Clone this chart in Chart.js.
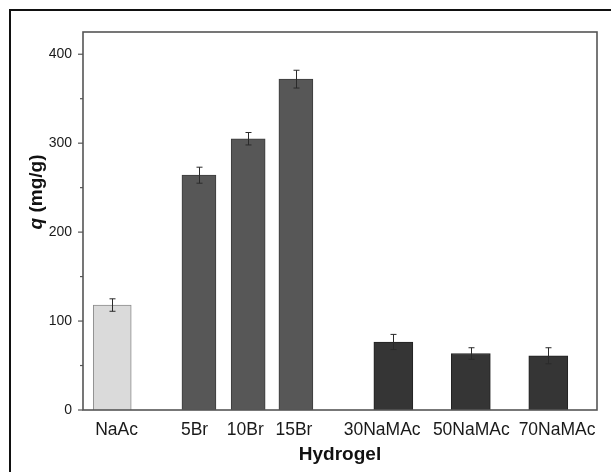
<!DOCTYPE html>
<html>
<head>
<meta charset="utf-8">
<script src="https://cdn.jsdelivr.net/npm/chart.js@4/dist/chart.umd.min.js"></script>
<style>
  html, body { margin: 0; padding: 0; background: #fff; overflow: hidden; }
  #wrap { position: relative; width: 611px; height: 472px; }
  #frame { position: absolute; left: 9px; top: 9px; width: 640px; height: 500px; border: 2px solid #111; box-sizing: border-box; }
  #chart { position: absolute; left: 0; top: 0; }
</style>
</head>
<body>
<div id="wrap">
  <div id="frame"></div>
  <canvas id="chart" width="611" height="472"></canvas>
</div>
<script>
// data
const hydrogels = ["NaAc", "5Br", "10Br", "15Br", "30NaMAc", "50NaMAc", "70NaMAc"];
const groups = ["NaAc", "Br", "Br", "Br", "NaMAc", "NaMAc", "NaMAc"];
const xPos = [0.6, 2.38, 3.39, 4.37, 6.37, 7.96, 9.55];      // bar centres
const labelPos = [0.69, 2.29, 3.33, 4.33, 6.14, 7.97, 9.73]; // where the labels sit
const qValues = [118, 264, 305, 372, 76.5, 63.5, 61];
const qErrors = [7, 9, 7, 10, 8.5, 6.5, 9];
const yTicks = [0, 100, 200, 300, 400];

const FONT = "'Liberation Sans', Arial, sans-serif";

const groupStyle = {
  NaAc:  { bg: "#dadada", border: "#8c8c8c", width: 38 },
  Br:    { bg: "#575757", border: "#3c3c3c", width: 34 },
  NaMAc: { bg: "#353535", border: "#222222", width: 39 }
};

const datasets = Object.keys(groupStyle).map((g) => {
  const idx = hydrogels.map((_, i) => i).filter((i) => groups[i] === g);
  return {
    label: g,
    data: idx.map((i) => ({ x: xPos[i], y: qValues[i], err: qErrors[i] })),
    backgroundColor: groupStyle[g].bg,
    borderColor: groupStyle[g].border,
    borderWidth: 1,
    barThickness: groupStyle[g].width,
    grouped: false
  };
});

const extras = {
  id: "extras",
  afterDatasetsDraw(chart) {
    const ctx = chart.ctx;
    const yScale = chart.scales.y;
    ctx.save();
    ctx.strokeStyle = "#2a2a2a";
    ctx.lineWidth = 1;
    chart.data.datasets.forEach((ds, di) => {
      chart.getDatasetMeta(di).data.forEach((bar, j) => {
        const p = ds.data[j];
        const x = Math.round(bar.x) + 0.5;
        const yt = yScale.getPixelForValue(p.y + p.err);
        const yb = yScale.getPixelForValue(p.y - p.err);
        ctx.beginPath();
        ctx.moveTo(x, yt); ctx.lineTo(x, yb);
        ctx.moveTo(x - 3, yt); ctx.lineTo(x + 3, yt);
        ctx.moveTo(x - 3, yb); ctx.lineTo(x + 3, yb);
        ctx.stroke();
      });
    });
    ctx.restore();
  },
  afterDraw(chart) {
    const ctx = chart.ctx;
    const a = chart.chartArea;
    const yScale = chart.scales.y;
    ctx.save();
    // plot box
    ctx.strokeStyle = "#555";
    ctx.lineWidth = 1.6;
    ctx.strokeRect(a.left, a.top, a.right - a.left, a.bottom - a.top);
    // y ticks, major and minor
    ctx.lineWidth = 1.2;
    for (let i = 0; i < yTicks.length; i++) {
      const y = yScale.getPixelForValue(yTicks[i]);
      ctx.beginPath(); ctx.moveTo(a.left - 5, y); ctx.lineTo(a.left, y); ctx.stroke();
      const mid = yTicks[i] + (yTicks[1] - yTicks[0]) / 2;
      if (mid < yScale.max) {
        const ym = yScale.getPixelForValue(mid);
        ctx.beginPath(); ctx.moveTo(a.left - 3, ym); ctx.lineTo(a.left, ym); ctx.stroke();
      }
    }
    // axis titles
    ctx.fillStyle = "#111";
    ctx.textBaseline = "alphabetic";
    ctx.font = "bold 19px " + FONT;
    ctx.textAlign = "center";
    ctx.fillText("Hydrogel", (a.left + a.right) / 2, 460);

    ctx.translate(42, 192);
    ctx.rotate(-Math.PI / 2);
    const fq = "italic bold 19px " + FONT;
    const fr = "bold 19px " + FONT;
    ctx.font = fq; const wq = ctx.measureText("q").width;
    ctx.font = fr; const wr = ctx.measureText(" (mg/g)").width;
    const x0 = -(wq + wr) / 2;
    ctx.textAlign = "left";
    ctx.font = fq; ctx.fillText("q", x0, 0);
    ctx.font = fr; ctx.fillText(" (mg/g)", x0 + wq, 0);
    ctx.restore();
  }
};

new Chart(document.getElementById("chart"), {
  type: "bar",
  data: { datasets: datasets },
  options: {
    responsive: false,
    animation: false,
    layout: { padding: { top: 32, right: 14, left: 0, bottom: 0 } },
    plugins: { legend: { display: false }, tooltip: { enabled: false } },
    scales: {
      x: {
        type: "linear",
        offset: false,
        min: 0,
        max: 10.55,
        grid: { display: false, drawTicks: false, offset: false },
        border: { display: false },
        afterBuildTicks: (s) => { s.ticks = labelPos.map((v) => ({ value: v })); },
        afterFit: (s) => { s.height = 62; },
        ticks: {
          autoSkip: false,
          maxRotation: 0,
          padding: 10,
          color: "#1a1a1a",
          font: { family: FONT, size: 17.5 },
          callback: (v) => hydrogels[labelPos.indexOf(v)] ?? ""
        }
      },
      y: {
        min: 0,
        max: 425,
        grid: { display: false, drawTicks: false },
        border: { display: false },
        afterBuildTicks: (s) => { s.ticks = yTicks.map((v) => ({ value: v })); },
        afterFit: (s) => { s.width = 83; },
        ticks: {
          padding: 11,
          color: "#1a1a1a",
          font: { family: FONT, size: 14 }
        }
      }
    }
  },
  plugins: [extras]
});
</script>
</body>
</html>
